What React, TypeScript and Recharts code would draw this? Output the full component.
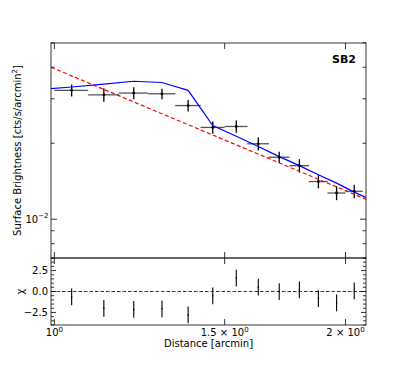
import { ScatterChart, Scatter, XAxis, YAxis, ErrorBar, ReferenceLine } from "recharts";

// radial bins [arcmin]
const binCenters = [1.042, 1.125, 1.208, 1.292, 1.375, 1.458, 1.542, 1.625, 1.708, 1.792, 1.875, 1.958, 2.042];
const binHalfWidth = [0.042, 0.042, 0.042, 0.042, 0.042, 0.042, 0.042, 0.042, 0.042, 0.042, 0.042, 0.042, 0.042];

// surface brightness [cts/s/arcmin^2]
const surfBright = [0.0324, 0.0311, 0.0316, 0.0314, 0.0282, 0.0231, 0.0233, 0.0199, 0.0176, 0.0163, 0.0141, 0.0127, 0.0129];
const surfErr = [0.0018, 0.0019, 0.0017, 0.0015, 0.0015, 0.0013, 0.0013, 0.0012, 0.0009, 0.001, 0.00085, 0.0008, 0.0008];

// residuals
const chiValues = [-0.65, -2.02, -2.14, -2.06, -2.8, -0.52, 1.61, 0.52, 0.0, 0.18, -0.84, -1.35, 0.06];
const chiErr = [1, 1, 1, 1, 1, 1, 1, 1, 1, 1, 1, 1, 1];

// model (blue)
const modelX = [0.992, 1.042, 1.125, 1.208, 1.292, 1.375, 1.458, 1.542, 1.625, 1.708, 1.792, 1.875, 1.958, 2.042, 2.1];
const modelY = [0.0329, 0.0334, 0.0343, 0.0352, 0.0348, 0.0324, 0.0235, 0.0213, 0.0194, 0.0177, 0.0163, 0.015, 0.0139, 0.0128, 0.0122];

// power law (red dashed)
const powerX = [0.992, 2.1];
const powerY = [0.04, 0.012];

const xTicks = [1, 1.5, 2];
const xTickLabels = ["10|0", "1.5 × 10|0", "2 × 10|0"];
const sbTicks = [0.007, 0.008, 0.009, 0.01, 0.02, 0.03, 0.04, 0.05];
const chiTicks = [-4, -3.5, -3, -2.5, -2, -1.5, -1, -0.5, 0, 0.5, 1, 1.5, 2, 2.5, 3, 3.5, 4];
const chiMajor = [-2.5, 0, 2.5];

const PL = 51;
const PR = 366;
const T_TOP = 43;
const T_BOT = 258;
const B_TOP = 8;
const B_BOT = 75;
const FONT = "DejaVu Sans";

const sbData = binCenters.map((x, i) => ({ x, y: surfBright[i], ex: binHalfWidth[i], ey: surfErr[i] }));
const chiData = binCenters.map((x, i) => ({ x, y: chiValues[i], ey: chiErr[i] }));
const modelData = modelX.map((x, i) => ({ x, y: modelY[i] }));
const powerData = powerX.map((x, i) => ({ x, y: powerY[i] }));

const dot = (p: any) => <circle cx={p.cx} cy={p.cy} r={1.4} fill="#000" />;
const tinyDot = (p: any) => <circle cx={p.cx} cy={p.cy} r={0.8} fill="#000" />;
const noDot = () => <g />;

function TopXTick({ x }: any) {
  return (
    <g>
      <line x1={x} x2={x} y1={T_BOT} y2={T_BOT - 6} stroke="#000" strokeWidth={0.8} />
      <line x1={x} x2={x} y1={T_TOP} y2={T_TOP + 6} stroke="#000" strokeWidth={0.8} />
    </g>
  );
}

function TopYTick({ y, payload }: any) {
  const major = payload.value === 0.01;
  const len = major ? 6 : 3.5;
  return (
    <g>
      <line x1={PL} x2={PL + len} y1={y} y2={y} stroke="#000" strokeWidth={0.8} />
      <line x1={PR} x2={PR - len} y1={y} y2={y} stroke="#000" strokeWidth={0.8} />
      {major && (
        <text x={48.5} y={y + 3.5} textAnchor="end" fontSize={10} fontFamily={FONT} fill="#000">
          <tspan>10</tspan>
          <tspan dy={-4.5} fontSize={7}>−2</tspan>
        </text>
      )}
    </g>
  );
}

function BotXTick({ x, payload }: any) {
  const idx = xTicks.indexOf(payload.value);
  const [base, sup] = xTickLabels[idx].split("|");
  return (
    <g>
      <line x1={x} x2={x} y1={B_BOT} y2={B_BOT - 6} stroke="#000" strokeWidth={0.8} />
      <line x1={x} x2={x} y1={B_TOP} y2={B_TOP + 6} stroke="#000" strokeWidth={0.8} />
      <text x={x} y={86} textAnchor="middle" fontSize={10} fontFamily={FONT} fill="#000">
        <tspan>{base}</tspan>
        <tspan dy={-4.5} fontSize={7}>{sup}</tspan>
      </text>
    </g>
  );
}

function BotYTick({ y, payload }: any) {
  const v = payload.value;
  const major = chiMajor.includes(v);
  const len = major ? 5 : 3;
  const label = v === 0 ? "0.0" : v < 0 ? "−" + Math.abs(v).toFixed(1) : v.toFixed(1);
  return (
    <g>
      <line x1={PL} x2={PL + len} y1={y} y2={y} stroke="#000" strokeWidth={0.8} />
      <line x1={PR} x2={PR - len} y1={y} y2={y} stroke="#000" strokeWidth={0.8} />
      {major && (
        <text x={48} y={y + 3.5} textAnchor="end" fontSize={10} fontFamily={FONT} fill="#000">
          {label}
        </text>
      )}
    </g>
  );
}

function SBTitle(props: any) {
  const vb = props.viewBox;
  const cx = vb.x + 17;
  const cy = vb.y + vb.height / 2;
  return (
    <text transform={`rotate(-90 ${cx} ${cy})`} x={cx} y={cy + 3.5} textAnchor="middle" fontSize={10} fontFamily={FONT} fill="#000">
      <tspan>Surface Brightness [cts/s/arcmin</tspan>
      <tspan dy={-4} fontSize={7}>2</tspan>
      <tspan dy={4}>]</tspan>
    </text>
  );
}

function ChiTitle(props: any) {
  const vb = props.viewBox;
  const cx = vb.x + 20;
  const cy = vb.y + vb.height / 2;
  return (
    <text transform={`rotate(-90 ${cx} ${cy})`} x={cx} y={cy + 3.5} textAnchor="middle" fontSize={10} fontFamily={FONT} fill="#000">
      χ
    </text>
  );
}

function DistTitle(props: any) {
  const vb = props.viewBox;
  return (
    <text x={vb.x + vb.width / 2} y={97} textAnchor="middle" fontSize={10} fontFamily={FONT} fill="#000">
      Distance [arcmin]
    </text>
  );
}

export default function App() {
  return (
    <div style={{ position: "absolute", left: 0, top: 0, width: 407, height: 366, background: "#fff" }}>
      <div style={{ position: "absolute", left: 0, top: 0 }}>
        <ScatterChart width={407} height={260} margin={{ top: T_TOP, right: 407 - PR, bottom: 0, left: 0 }}>
          <XAxis
            dataKey="x"
            type="number"
            scale="log"
            domain={[0.992, 2.1]}
            allowDataOverflow
            ticks={xTicks}
            interval={0}
            height={2}
            axisLine={false}
            tickLine={false}
            tick={<TopXTick />}
          />
          <YAxis
            dataKey="y"
            type="number"
            scale="log"
            domain={[0.00702, 0.0499]}
            allowDataOverflow
            ticks={sbTicks}
            interval={0}
            width={PL}
            axisLine={false}
            tickLine={false}
            tick={<TopYTick />}
            label={<SBTitle />}
          />
          <Scatter data={modelData} fill="#0000ff" shape={noDot} line={{ stroke: "#0000ff", strokeWidth: 1.2 }} isAnimationActive={false} />
          <Scatter
            data={powerData}
            fill="#ff0000"
            shape={noDot}
            line={{ stroke: "#ff0000", strokeWidth: 1.2, strokeDasharray: "4 2.5" }}
            isAnimationActive={false}
          />
          <Scatter data={sbData} fill="#000" shape={dot} isAnimationActive={false}>
            <ErrorBar dataKey="ex" direction="x" width={0} stroke="#555" strokeWidth={1.3} isAnimationActive={false} />
            <ErrorBar dataKey="ey" direction="y" width={0} stroke="#000" strokeWidth={1.3} isAnimationActive={false} />
          </Scatter>
        </ScatterChart>
      </div>
      <div style={{ position: "absolute", left: 0, top: 250 }}>
        <ScatterChart width={407} height={116} margin={{ top: B_TOP, right: 407 - PR, bottom: 0, left: 0 }}>
          <XAxis
            dataKey="x"
            type="number"
            scale="log"
            domain={[0.992, 2.1]}
            allowDataOverflow
            ticks={xTicks}
            interval={0}
            height={41}
            axisLine={false}
            tickLine={false}
            tick={<BotXTick />}
            label={<DistTitle />}
          />
          <YAxis
            dataKey="y"
            type="number"
            domain={[-4, 4]}
            allowDataOverflow
            ticks={chiTicks}
            interval={0}
            width={PL}
            axisLine={false}
            tickLine={false}
            tick={<BotYTick />}
            label={<ChiTitle />}
          />
          <ReferenceLine y={0} stroke="#333" strokeWidth={1.1} strokeDasharray="3.5 2" />
          <Scatter data={chiData} fill="#000" shape={tinyDot} isAnimationActive={false}>
            <ErrorBar dataKey="ey" direction="y" width={0} stroke="#000" strokeWidth={1.1} isAnimationActive={false} />
          </Scatter>
        </ScatterChart>
      </div>
      <svg width={407} height={366} style={{ position: "absolute", left: 0, top: 0, pointerEvents: "none" }}>
        <rect x={PL} y={T_TOP} width={PR - PL} height={T_BOT - T_TOP} fill="none" stroke="#222" strokeWidth={0.9} />
        <rect x={PL} y={T_BOT} width={PR - PL} height={325 - T_BOT} fill="none" stroke="#222" strokeWidth={0.9} />
        <text x={356} y={62.5} textAnchor="end" fontSize={11} fontWeight="bold" fontFamily={FONT} fill="#000">
          SB2
        </text>
      </svg>
    </div>
  );
}
